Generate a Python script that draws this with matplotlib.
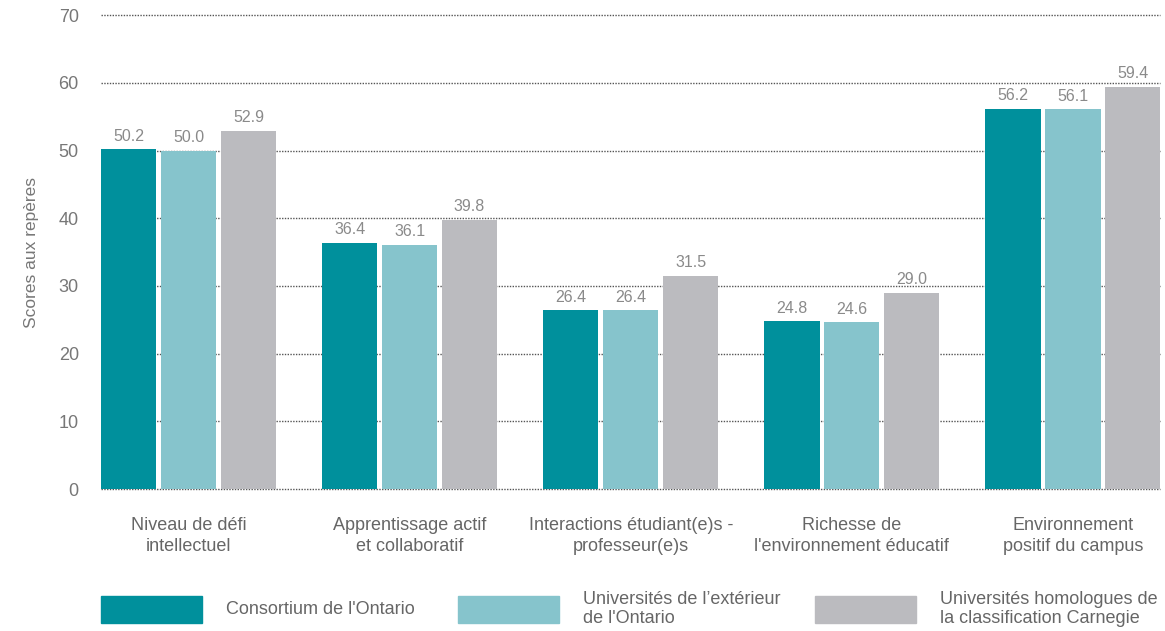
import numpy as np
import matplotlib.pyplot as plt
from matplotlib.patches import Rectangle

plt.rcParams['font.family'] = ['Liberation Sans', 'DejaVu Sans']

categories = ["Niveau de défi\nintellectuel",
              "Apprentissage actif\net collaboratif",
              "Interactions étudiant(e)s -\nprofesseur(e)s",
              "Richesse de\nl'environnement éducatif",
              "Environnement\npositif du campus"]
series_names = ["Consortium de l'Ontario",
                "Universités de l’extérieur\nde l'Ontario",
                "Universités homologues de\nla classification Carnegie"]
ontario = [50.2, 36.4, 26.4, 24.8, 56.2]
exterieur = [50.0, 36.1, 26.4, 24.6, 56.1]
carnegie = [52.9, 39.8, 31.5, 29.0, 59.4]
yticks = [0, 10, 20, 30, 40, 50, 60, 70]

colors = ['#00909c', '#86c4cc', '#bbbbbf']
text_col = '#666666'

fig = plt.figure(figsize=(11.65, 6.31), dpi=100)
ax = fig.add_axes([0.0867, 0.225, 0.909, 0.751])

x = np.arange(len(categories))
w = 0.25
step = 0.271
for i, (vals, c) in enumerate(zip([ontario, exterieur, carnegie], colors)):
    pos = x + (i - 1) * step
    ax.bar(pos, vals, width=w, color=c, zorder=3)
    for p, v in zip(pos, vals):
        ax.text(p, v + 0.8, f"{v:.1f}", ha='center', va='bottom',
                fontsize=11.5, color='#8a8a8a', zorder=4)

ax.set_xlim(-0.396, 4.394)
ax.set_ylim(0, 70)
ax.set_yticks(yticks)
ax.yaxis.grid(True, linestyle=(0, (1, 1)), color='#555555', linewidth=1.0, zorder=0)
for gl in ax.get_ygridlines():
    gl.set_clip_on(False)
ax.set_axisbelow(True)
for s in ax.spines.values():
    s.set_visible(False)
ax.tick_params(axis='both', length=0, labelcolor=text_col)
ax.tick_params(axis='y', pad=16, labelsize=13, labelcolor='#777777')
ax.tick_params(axis='x', pad=20, labelsize=13)
ax.set_xticks(x)
ax.set_xticklabels(categories, linespacing=1.3)
ax.set_ylabel("Scores aux repères", fontsize=12.5, color='#777777', labelpad=14)

# legend drawn in figure pixels
W, H = 1165, 631
leg_x = [101, 458, 815]
for nm, c, lx in zip(series_names, colors, leg_x):
    fig.add_artist(Rectangle((lx / W, (H - 623) / H), 101 / W, 27 / H,
                             transform=fig.transFigure, color=c))
    fig.text((lx + 125) / W, (H - 609) / H, nm, ha='left', va='center',
             fontsize=13, color=text_col, linespacing=1.2)

fig.savefig('out.png', dpi=100)
